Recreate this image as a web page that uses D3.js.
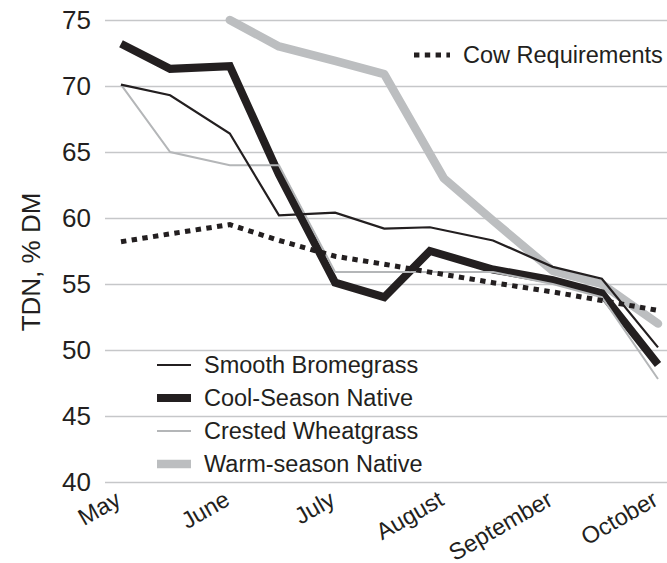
<!DOCTYPE html>
<html>
<head>
<meta charset="utf-8">
<script src="https://cdn.jsdelivr.net/npm/d3@7"></script>
<style>
  body { margin: 0; background: #fff; }
  text { font-family: "Liberation Sans", Arial, Helvetica, sans-serif; fill: #231f20; }
</style>
</head>
<body>
<div id="chart_container"></div>
<script>
// sampling dates (month-day)
var forageDates = ["05-01", "05-15", "06-01", "06-15", "07-01", "07-15", "07-28", "08-15", "09-01", "09-15", "10-01"];
var warmDates = ["06-01", "06-15", "07-01", "07-15", "08-01", "08-15", "09-01", "09-15", "10-01"];

var smoothBrome = [70.1, 69.3, 66.4, 60.2, 60.4, 59.2, 59.3, 58.3, 56.3, 55.4, 50.2];
var coolSeason = [73.2, 71.3, 71.5, 63.3, 55.1, 54.0, 57.5, 56.1, 55.3, 54.3, 48.9];
var crestedWheat = [70.1, 65.0, 64.0, 64.0, 55.9, 55.9, 55.9, 55.9, 55.0, 54.0, 47.8];
var warmSeason = [75.0, 73.0, 71.9, 70.9, 63.0, 59.8, 56.0, 55.0, 52.0];
var cowReq = [58.2, 58.8, 59.5, 58.3, 57.1, 56.5, 55.9, 55.1, 54.4, 53.75, 53.0];

var monthDates = ["05-01", "06-01", "07-01", "08-01", "09-01", "10-01"];
var monthLabels = ["May", "June", "July", "August", "September", "October"];
var yTicks = [40, 45, 50, 55, 60, 65, 70, 75];

var parse = d3.timeParse("%m-%d");

var width = 667, height = 563;
var svg = d3.select("#chart_container").append("svg")
    .attr("width", width)
    .attr("height", height);

var x = d3.scaleTime()
    .domain([parse("05-01"), parse("10-01")])
    .range([121, 658]);
var y = d3.scaleLinear()
    .domain([40, 75])
    .range([482, 20]);

// gridlines + y labels
var yAxis = svg.append("g")
    .attr("transform", "translate(105,0)")
    .call(d3.axisLeft(y).tickValues(yTicks).tickSize(-(width - 105)).tickPadding(14));
yAxis.select(".domain").remove();
yAxis.selectAll(".tick line").attr("stroke", "#c6c7c9").attr("stroke-width", 1.5);
yAxis.selectAll(".tick text")
    .style("font-size", "26px")
    .attr("fill", "#231f20");

// x labels
var xAxis = svg.append("g")
    .attr("transform", "translate(0,482)")
    .call(d3.axisBottom(x).tickValues(monthDates.map(parse)).tickSize(0).tickFormat(function(d, i) {
        return monthLabels[i];
    }));
xAxis.select(".domain").remove();
xAxis.selectAll(".tick text")
    .style("font-size", "23.5px")
    .attr("fill", "#231f20")
    .attr("text-anchor", "end")
    .attr("y", 0)
    .attr("dy", 0)
    .attr("transform", "translate(1,22) rotate(-30)");

// y title
svg.append("text")
    .attr("transform", "translate(40,262) rotate(-90)")
    .attr("text-anchor", "middle")
    .style("font-size", "26px")
    .text("TDN, % DM");

var series = [
    { name: "Warm-season Native", dates: warmDates, values: warmSeason, color: "#bcbec0", width: 8.5, cap: "round", dash: null },
    { name: "Cool-Season Native", dates: forageDates, values: coolSeason, color: "#231f20", width: 8, cap: "butt", dash: null },
    { name: "Crested Wheatgrass", dates: forageDates, values: crestedWheat, color: "#b4b6b8", width: 2, cap: "butt", dash: null },
    { name: "Smooth Bromegrass", dates: forageDates, values: smoothBrome, color: "#231f20", width: 2.2, cap: "butt", dash: null },
    { name: "Cow Requirements", dates: forageDates, values: cowReq, color: "#231f20", width: 5, cap: "butt", dash: "5.4,5.4" }
];

var line = d3.line()
    .x(function(d) { return x(d.date); })
    .y(function(d) { return y(d.value); });

svg.append("g").attr("id", "lines")
    .selectAll("path")
    .data(series)
    .enter().append("path")
    .attr("d", function(s) {
        return line(s.values.map(function(v, i) {
            return { date: parse(s.dates[i]), value: v };
        }));
    })
    .attr("fill", "none")
    .attr("stroke", function(s) { return s.color; })
    .attr("stroke-width", function(s) { return s.width; })
    .attr("stroke-linecap", function(s) { return s.cap; })
    .attr("stroke-linejoin", function(s) { return s.cap === "round" ? "round" : "miter"; })
    .attr("stroke-dasharray", function(s) { return s.dash; });

// legend, bottom left
var legendOrder = ["Smooth Bromegrass", "Cool-Season Native", "Crested Wheatgrass", "Warm-season Native"];
var legend = svg.append("g").attr("id", "legend");
legendOrder.forEach(function(name, i) {
    var s = series.filter(function(d) { return d.name === name; })[0];
    var ly = 365 + i * 33;
    legend.append("line")
        .attr("x1", 157).attr("x2", 191)
        .attr("y1", ly).attr("y2", ly)
        .attr("stroke", s.color)
        .attr("stroke-width", s.width);
    legend.append("text")
        .attr("x", 204)
        .attr("y", ly)
        .attr("dy", "0.36em")
        .style("font-size", "23.5px")
        .text(name);
});

// cow requirements legend, top right
var cow = series[4];
legend.append("line")
    .attr("x1", 414).attr("x2", 450)
    .attr("y1", 55).attr("y2", 55)
    .attr("stroke", cow.color)
    .attr("stroke-width", cow.width)
    .attr("stroke-dasharray", cow.dash);
legend.append("text")
    .attr("x", 463)
    .attr("y", 55)
    .attr("dy", "0.36em")
    .style("font-size", "23.5px")
    .text(cow.name);
</script>
</body>
</html>
